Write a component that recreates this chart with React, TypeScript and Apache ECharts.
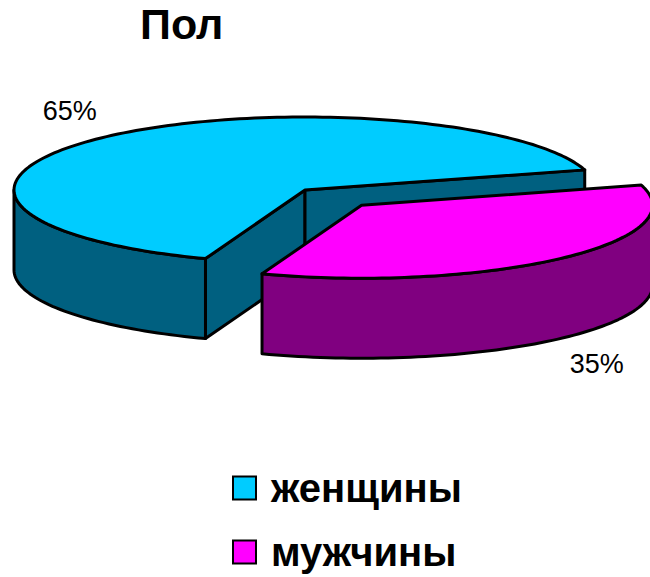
import React, { useEffect, useRef } from 'react';
import * as echarts from 'echarts';

// ---- data ----
const categories = ['женщины', 'мужчины'];
const values = [65, 35];
const titleText = 'Пол';

// ---- style / layout (not data) ----
const topColors = ['#00CCFF', '#FF00FF'];
const sideColors = ['#006080', '#800080'];
const explode = [0, 0.285];
const CX = 305;
const CY = 190;
const RX = 291;
const RY = 73;
const DEPTH = 80;
const START_DEG = 110;
const FONT = '"Liberation Sans", Arial, sans-serif';

export default function App() {
  const ref = useRef<HTMLDivElement>(null);

  useEffect(() => {
    const chart = echarts.init(ref.current!, null, { renderer: 'svg' });
    const total = values.reduce((s, v) => s + v, 0);
    const starts: number[] = [];
    let acc = (START_DEG * Math.PI) / 180;
    values.forEach((v) => {
      starts.push(acc);
      acc += (v / total) * Math.PI * 2;
    });

    const makeRender = (i: number) => (_params: any, api: any) => {
      const v = api.value(0) as number;
      const a = starts[i];
      const b = a + (v / total) * Math.PI * 2;
      const m = (a + b) / 2;
      const cx = CX + explode[i] * RX * Math.cos(m);
      const cy = CY + explode[i] * RY * Math.sin(m);
      const P = (t: number, dz = 0) => [cx + RX * Math.cos(t), cy + RY * Math.sin(t) + dz];
      const arc = (s: number, e: number, dz = 0) => {
        const n = Math.max(2, Math.ceil(Math.abs(e - s) / (Math.PI / 120)));
        const pts: number[][] = [];
        for (let k = 0; k <= n; k++) pts.push(P(s + ((e - s) * k) / n, dz));
        return pts;
      };
      const base = { stroke: '#000', lineWidth: 3, lineJoin: 'round' };
      const children: any[] = [];
      // radial faces
      if (Math.cos(a) < 0) {
        children.push({
          type: 'polygon',
          shape: { points: [[cx, cy], P(a), P(a, DEPTH), [cx, cy + DEPTH]] },
          style: { ...base, fill: sideColors[i] },
        });
      }
      if (Math.cos(b) > 0) {
        children.push({
          type: 'polygon',
          shape: { points: [[cx, cy], P(b), P(b, DEPTH), [cx, cy + DEPTH]] },
          style: { ...base, fill: sideColors[i] },
        });
      }
      // outer walls (front half)
      for (let k = -1; k <= 2; k++) {
        const s = Math.max(a, 2 * Math.PI * k);
        const e = Math.min(b, 2 * Math.PI * k + Math.PI);
        if (e > s) {
          const pts = arc(s, e).concat(arc(e, s, DEPTH));
          children.push({
            type: 'polygon',
            shape: { points: pts },
            style: { ...base, fill: sideColors[i] },
          });
        }
      }
      // top face
      children.push({
        type: 'polygon',
        shape: { points: [[cx, cy]].concat(arc(a, b)) },
        style: { ...base, fill: topColors[i] },
      });
      // percent label
      const lx = cx + 1.185 * RX * Math.cos(m);
      const ly = cy + 1.48 * RY * Math.sin(m) + (Math.sin(m) > 0 ? DEPTH : 0);
      children.push({
        type: 'text',
        x: lx,
        y: ly,
        style: {
          text: Math.round((v / total) * 100) + '%',
          fill: '#000',
          fontSize: 27,
          fontFamily: FONT,
          align: 'center',
          verticalAlign: 'middle',
        },
      });
      return { type: 'group', children };
    };

    chart.setOption({
      animation: false,
      backgroundColor: '#fff',
      title: {
        text: titleText,
        left: 140,
        top: 2,
        padding: 0,
        textStyle: { fontSize: 43, fontWeight: 'bold', color: '#000', fontFamily: FONT },
      },
      legend: {
        orient: 'vertical',
        left: 232,
        top: 468,
        padding: 0,
        itemWidth: 23,
        itemHeight: 23,
        itemGap: 24,
        icon: 'rect',
        selectedMode: false,
        data: categories,
        itemStyle: { borderColor: '#000', borderWidth: 2 },
        textStyle: {
          fontSize: 40,
          fontWeight: 'bold',
          color: '#000',
          fontFamily: FONT,
          lineHeight: 40,
          padding: [0, 0, 0, 10],
        },
      },
      series: categories.map((name, i) => ({
        type: 'custom',
        name,
        coordinateSystem: 'none',
        silent: true,
        data: [values[i]],
        itemStyle: { color: topColors[i] },
        renderItem: makeRender(i),
      })),
    });

    return () => chart.dispose();
  }, []);

  return (
    <div
      ref={ref}
      style={{ position: 'fixed', left: 0, top: 0, width: 650, height: 577, background: '#fff' }}
    />
  );
}
